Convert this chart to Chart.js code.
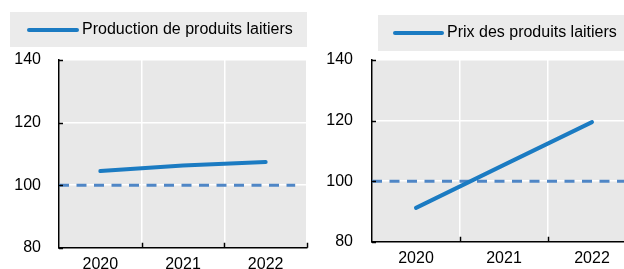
<!DOCTYPE html>
<html>
<head>
<meta charset="utf-8">
<script src="https://cdn.jsdelivr.net/npm/chart.js@4/dist/chart.umd.min.js"></script>
<style>
  html, body { margin: 0; padding: 0; background: #fff; overflow: hidden; }
  body { width: 624px; height: 269px; position: relative; }
  .panel { position: absolute; top: 0; height: 269px; overflow: hidden; }
</style>
</head>
<body>
<div class="panel" style="left:0;width:312px"><canvas id="prodChart" width="312" height="281"></canvas></div>
<div class="panel" style="left:312px;width:312px"><canvas id="priceChart" width="340" height="275"></canvas></div>
<script>
// Data
const years = ['2020', '2021', '2022'];
const production = [104.5, 106.3, 107.4];
const prices = [91.2, 105.4, 119.5];
const baseline = [100, 100];
const yTicks = [80, 100, 120, 140];

const blue = '#1b7bc2';
const dashBlue = '#4f86c6';
const plotBg = '#e8e8e8';
const legendBg = '#ebebeb';
const font = { family: '"Liberation Sans", Arial, sans-serif', size: 16 };

Chart.defaults.font = font;
Chart.defaults.color = '#000';

// grey plot background, boxed legend, inward ticks
const panelPlugin = {
    id: 'panel',
    beforeDraw(chart) {
        const ctx = chart.ctx;
        const a = chart.chartArea;
        const o = chart.options.plugins.panel;
        ctx.save();
        ctx.fillStyle = plotBg;
        ctx.fillRect(a.left, a.top, a.right - a.left, a.bottom - a.top);

        // legend
        const lg = o.legend;
        ctx.fillStyle = legendBg;
        ctx.fillRect(lg.x, lg.y, lg.w, lg.h);
        ctx.strokeStyle = blue;
        ctx.lineWidth = 4;
        ctx.lineCap = 'round';
        ctx.beginPath();
        ctx.moveTo(lg.lineX1, lg.lineY);
        ctx.lineTo(lg.lineX2, lg.lineY);
        ctx.stroke();
        ctx.fillStyle = '#000';
        ctx.font = font.size + 'px ' + font.family;
        ctx.textBaseline = 'middle';
        ctx.textAlign = 'left';
        ctx.fillText(chart.data.datasets[0].label, lg.textX, lg.lineY);
        ctx.restore();
    },
    afterDraw(chart) {
        const ctx = chart.ctx;
        const a = chart.chartArea;
        const y = chart.scales.y;
        ctx.save();
        ctx.strokeStyle = '#000';
        ctx.lineWidth = 1.5;
        ctx.beginPath();
        yTicks.forEach(v => {
            const py = Math.round(y.getPixelForValue(v)) + 0.5;
            ctx.moveTo(a.left, py);
            ctx.lineTo(a.left + 4, py);
        });
        const n = years.length;
        const step = (a.right - a.left) / n;
        for (let i = 1; i <= n; i++) {
            const px = Math.round(a.left + i * step) + 0.5;
            ctx.moveTo(px, a.bottom);
            ctx.lineTo(px, a.bottom - 5);
        }
        ctx.stroke();
        ctx.restore();
    }
};

function makeChart(id, label, values, cfg) {
    const ctx = document.getElementById(id).getContext('2d');
    return new Chart(ctx, {
        type: 'line',
        data: {
            labels: years,
            datasets: [{
                label: label,
                data: values,
                borderColor: blue,
                borderWidth: 4,
                borderCapStyle: 'round',
                pointRadius: 0,
                tension: 0,
                order: 0
            }, {
                label: 'base',
                data: baseline.map((v, i) => ({ x: i, y: v })),
                xAxisID: 'xRef',
                borderColor: dashBlue,
                borderWidth: 3,
                borderDash: [10, 7.5],
                pointRadius: 0,
                order: 1
            }]
        },
        options: {
            responsive: false,
            animation: false,
            layout: { padding: { top: 60, right: cfg.padRight, left: 0, bottom: 0 } },
            plugins: {
                legend: { display: false },
                tooltip: { enabled: false },
                panel: { legend: cfg.legend }
            },
            scales: {
                x: {
                    type: 'category',
                    offset: true,
                    grid: { color: '#fff', lineWidth: 1.5, offset: true, drawTicks: false },
                    border: { color: '#000', width: 1.5 },
                    ticks: { padding: 7, color: '#000', maxRotation: 0 }
                },
                xRef: {
                    type: 'linear',
                    display: false,
                    min: 0,
                    max: cfg.refMax
                },
                y: {
                    min: 80,
                    max: 140,
                    afterBuildTicks(scale) { scale.ticks = yTicks.map(v => ({ value: v })); },
                    grid: { color: '#fff', lineWidth: 1.5, drawTicks: false },
                    border: { color: '#000', width: 1.5 },
                    ticks: { padding: cfg.yPad, color: '#000' },
                    afterFit(scale) { scale.width = cfg.yWidth; }
                }
            }
        },
        plugins: [panelPlugin]
    });
}

makeChart('prodChart', 'Production de produits laitiers', production, {
    padRight: 5, yWidth: 59, yPad: 18, refMax: 1.05,
    legend: { x: 10, y: 12, w: 297, h: 35, lineX1: 29, lineX2: 77, lineY: 30, textX: 82 }
});

makeChart('priceChart', 'Prix des produits laitiers', prices, {
    padRight: 16, yWidth: 60, yPad: 19, refMax: 1,
    legend: { x: 66, y: 15, w: 274, h: 36, lineX1: 83, lineX2: 130, lineY: 33, textX: 135 }
});
</script>
</body>
</html>
